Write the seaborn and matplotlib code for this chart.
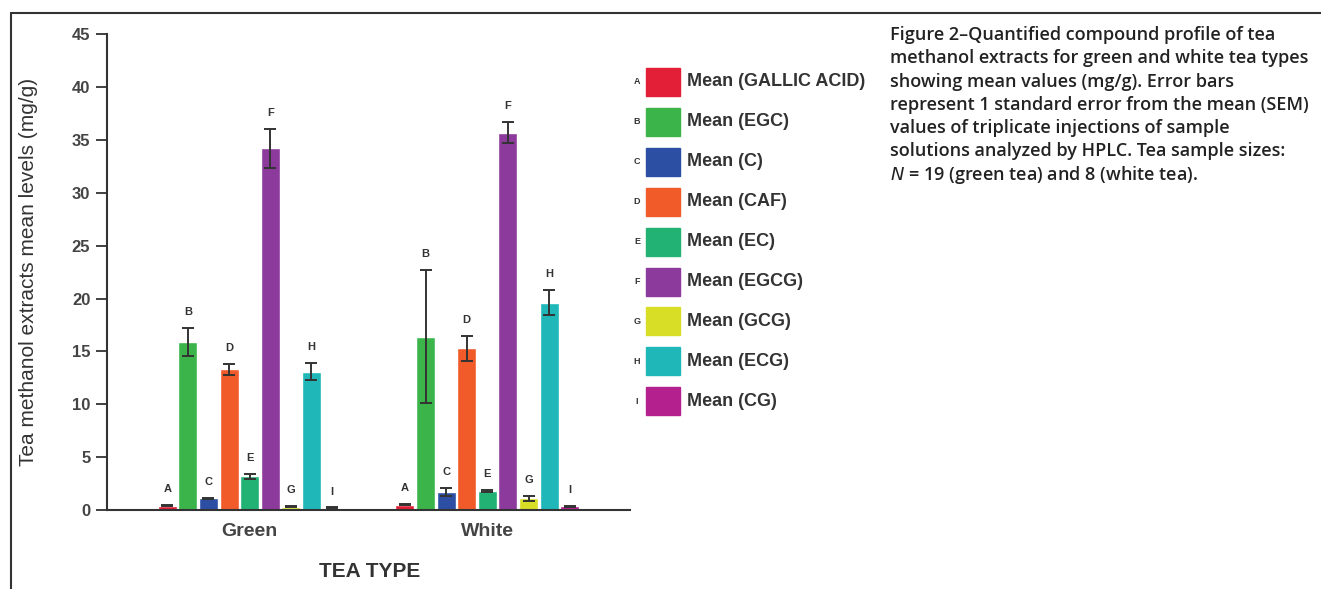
import matplotlib
matplotlib.use("Agg")
import matplotlib.pyplot as plt
import matplotlib.transforms as mtransforms
import pandas as pd
import seaborn as sns
from matplotlib.lines import Line2D

# values (mg/g)
tea_types = ["Green", "White"]
letters = ["A", "B", "C", "D", "E", "F", "G", "H", "I"]
compounds = ["GALLIC ACID", "EGC", "C", "CAF", "EC", "EGCG", "GCG", "ECG", "CG"]
green_mean = [0.4, 15.9, 1.1, 13.3, 3.2, 34.2, 0.3, 13.1, 0.2]
green_sem = [0.05, 1.35, 0.05, 0.5, 0.25, 1.85, 0.05, 0.8, 0.05]
white_mean = [0.5, 16.4, 1.7, 15.3, 1.8, 35.7, 1.1, 19.6, 0.35]
white_sem = [0.05, 6.3, 0.4, 1.2, 0.1, 1.0, 0.25, 1.2, 0.05]
colors = ["#e31f38", "#3bb54a", "#2c4fa3", "#f15a29", "#21b274",
          "#8c3a9c", "#d8de26", "#1fb7b7", "#b5208f"]
y_ticks = [0, 5, 10, 15, 20, 25, 30, 35, 40, 45]

caption_lines = [
    "Figure 2\u2013Quantified compound profile of tea",
    "methanol extracts for green and white tea types",
    "showing mean values (mg/g). Error bars",
    "represent 1 standard error from the mean (SEM)",
    "values of triplicate injections of sample",
    "solutions analyzed by HPLC. Tea sample sizes:",
    "$\\it{N}$ = 19 (green tea) and 8 (white tea).",
]

labels = [f"Mean ({c})" for c in compounds]
df = pd.DataFrame({
    "tea": ["Green"] * 9 + ["White"] * 9,
    "compound": labels * 2,
    "value": green_mean + white_mean,
    "sem": green_sem + white_sem,
})

sns.set_style("white")
plt.rcParams["font.family"] = ["Liberation Sans", "DejaVu Sans"]
ink = "#333333"
W, H = 1321, 589

fig = plt.figure(figsize=(13.21, 5.89), dpi=100)
ax = fig.add_axes([107 / W, 1 - 510 / H, 523 / W, 475.7 / H])

sns.barplot(data=df, x="tea", y="value", hue="compound", hue_order=labels,
            palette=colors, order=tea_types, width=0.78, gap=0.08,
            errorbar=None, legend=False, ax=ax, saturation=1)

sems = {"Green": green_sem, "White": white_sem}
bar_groups = list(ax.containers)
for i, cont in enumerate(bar_groups):
    for j, bar in enumerate(cont):
        xc = bar.get_x() + bar.get_width() / 2
        h = bar.get_height()
        e = sems[tea_types[j]][i]
        ax.errorbar(xc, h, yerr=e, color=ink, lw=1.4, capsize=4.5, capthick=1.4)
        ax.text(xc, h + e + 1.5, letters[i], ha="center", va="center",
                fontsize=8, fontweight="bold", color=ink)

ax.set_xlim(-0.6, 1.6)
ax.set_ylim(0, 45)
ax.set_yticks(y_ticks)
ax.set_yticklabels([str(t) for t in y_ticks], fontsize=12, fontweight="bold", color="#444444")
ax.set_xticklabels(tea_types, fontsize=14, fontweight="bold", color="#444444")
shift = mtransforms.ScaledTranslation(-7 / 72, 0, fig.dpi_scale_trans)
for lbl in ax.get_xticklabels():
    lbl.set_transform(lbl.get_transform() + shift)
ax.tick_params(axis="y", left=True, length=8, width=1.3, color=ink, pad=4)
ax.tick_params(axis="x", bottom=False, pad=6)
ax.set_ylabel("Tea methanol extracts mean levels (mg/g)", fontsize=15, color=ink)
ax.yaxis.set_label_coords(-0.132, 0.5)
ax.set_xlabel("TEA TYPE", fontsize=15, fontweight="bold", color=ink)
ax.xaxis.set_label_coords(0.503, -0.11)
for side in ["top", "right"]:
    ax.spines[side].set_visible(False)
for side in ["left", "bottom"]:
    ax.spines[side].set_color(ink)
    ax.spines[side].set_linewidth(1.5)

# legend drawn by hand: letter, colour square, label
for k, (let, lab, col) in enumerate(zip(letters, labels, colors)):
    yc = 1 - (82 + k * 39.9) / H
    fig.text(637 / W, yc, let, ha="center", va="center", fontsize=6.5,
             fontweight="bold", color=ink)
    fig.patches.append(plt.Rectangle((646 / W, yc - 14 / H), 34 / W, 28 / H,
                                     transform=fig.transFigure, color=col))
    fig.text(687 / W, yc, lab, ha="left", va="center", fontsize=13,
             fontweight="bold", color=ink)

for k, line in enumerate(caption_lines):
    fig.text(890 / W, 1 - (35 + k * 23.3) / H, line, ha="left", va="center",
             fontsize=13, fontweight="semibold", color="#222222",
             family=["Open Sans", "DejaVu Sans"])

# frame lines at top and left
fig.add_artist(Line2D([11 / W, 1], [1 - 12.5 / H, 1 - 12.5 / H], color=ink, lw=1.5))
fig.add_artist(Line2D([11 / W, 11 / W], [0, 1 - 12.5 / H], color=ink, lw=1.5))

fig.savefig("out.png", dpi=100, facecolor="white")
